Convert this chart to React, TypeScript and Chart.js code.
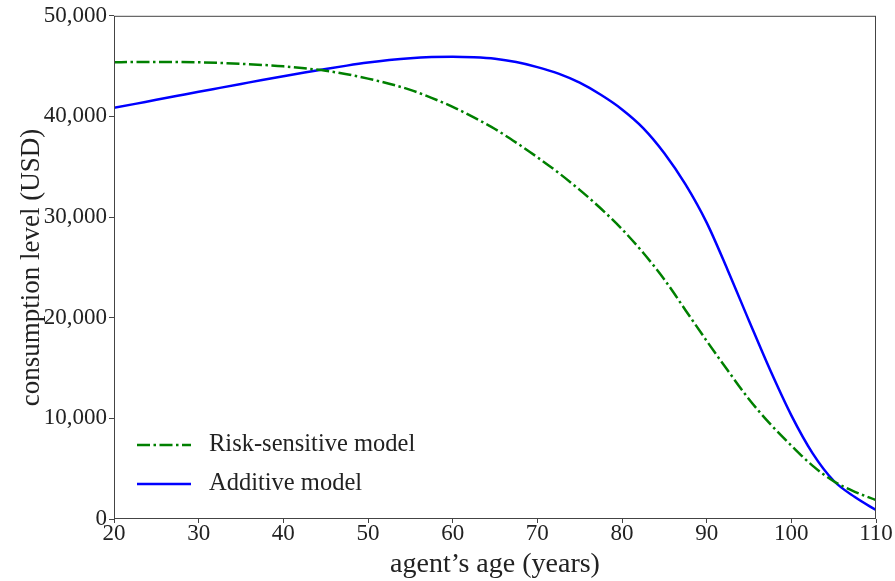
import React, { useEffect, useRef } from "react";
import { Chart, registerables } from "chart.js";

Chart.register(...registerables);

const ages = [20, 22.5, 25, 27.5, 30, 32.5, 35, 37.5, 40, 42.5, 45, 47.5, 50, 52.5, 55, 57.5, 60, 62.5, 65, 67.5, 70, 72.5, 75, 77.5, 80, 82.5, 85, 87.5, 90, 92.5, 95, 97.5, 100, 102.5, 105, 107.5, 110];
const riskSensitive = [45380, 45410, 45420, 45410, 45380, 45320, 45230, 45120, 44980, 44780, 44540, 44200, 43760, 43250, 42640, 41850, 40950, 39900, 38750, 37400, 35950, 34400, 32700, 30850, 28800, 26450, 23800, 20750, 17700, 14750, 11900, 9450, 7300, 5300, 3750, 2700, 1880];
const additive = [40850, 41250, 41650, 42050, 42450, 42840, 43230, 43620, 44000, 44370, 44720, 45050, 45350, 45600, 45790, 45900, 45940, 45880, 45730, 45400, 44900, 44250, 43350, 42150, 40700, 38850, 36350, 33250, 29450, 24700, 19700, 14800, 10300, 6550, 3800, 2180, 890];
const seriesLabels = ["Risk-sensitive model", "Additive model"];
const xTicks = [20, 30, 40, 50, 60, 70, 80, 90, 100, 110];
const yTicks = [0, 10000, 20000, 30000, 40000, 50000];

const FONT = "'Liberation Serif', 'DejaVu Serif', serif";

const framePlugin = {
  id: "frame",
  afterDatasetsDraw(chart: any) {
    const { ctx, chartArea } = chart;
    ctx.save();
    ctx.strokeStyle = "#444";
    ctx.lineWidth = 1;
    ctx.strokeRect(chartArea.left + 0.5, chartArea.top + 0.5, chartArea.right - chartArea.left - 1, chartArea.bottom - chartArea.top - 1);
    ctx.restore();
  },
};

const legendPlugin = {
  id: "customLegend",
  afterDraw(chart: any) {
    const { ctx, chartArea } = chart;
    ctx.save();
    const x0 = chartArea.left + 23;
    const rows = [chartArea.bottom - 74, chartArea.bottom - 35];
    chart.data.datasets.forEach((ds: any, i: number) => {
      const y = rows[i];
      ctx.beginPath();
      ctx.strokeStyle = ds.borderColor;
      ctx.lineWidth = ds.borderWidth;
      ctx.setLineDash(ds.borderDash || []);
      ctx.moveTo(x0, y);
      ctx.lineTo(x0 + 54, y);
      ctx.stroke();
      ctx.setLineDash([]);
      ctx.fillStyle = "#222";
      ctx.font = `24.5px ${FONT}`;
      ctx.textBaseline = "middle";
      ctx.textAlign = "left";
      ctx.fillText(ds.label, x0 + 72, y);
    });
    ctx.restore();
  },
};

export default function App() {
  const ref = useRef<HTMLCanvasElement>(null);
  useEffect(() => {
    document.body.style.margin = "0";
    const canvas = ref.current!;
    const chart = new Chart(canvas, {
      type: "line",
      data: {
        datasets: [
          {
            label: seriesLabels[0],
            data: ages.map((a, i) => ({ x: a, y: riskSensitive[i] })),
            borderColor: "#008000",
            borderWidth: 2.5,
            borderDash: [13, 3.5, 2.5, 3.5],
            pointRadius: 0,
            cubicInterpolationMode: "monotone",
            fill: false,
          },
          {
            label: seriesLabels[1],
            data: ages.map((a, i) => ({ x: a, y: additive[i] })),
            borderColor: "#0000ff",
            borderWidth: 2.5,
            pointRadius: 0,
            cubicInterpolationMode: "monotone",
            fill: false,
          },
        ],
      },
      options: {
        animation: false,
        responsive: false,
        layout: { padding: { left: 16, right: 19, top: 9, bottom: 0 } },
        plugins: {
          legend: { display: false },
          tooltip: { enabled: false },
        },
        scales: {
          x: {
            type: "linear",
            min: 20,
            max: 110,
            afterBuildTicks: (s: any) => {
              s.ticks = xTicks.map((v) => ({ value: v }));
            },
            afterFit: (s: any) => {
              s.height = 62;
            },
            grid: { drawOnChartArea: false, drawTicks: true, tickLength: 4, color: "#444" },
            border: { display: false },
            ticks: {
              color: "#222",
              font: { family: FONT, size: 23 },
              padding: -3,
              maxRotation: 0,
            },
            title: {
              display: true,
              text: "agent\u2019s age (years)",
              color: "#222",
              font: { family: FONT, size: 28 },
              padding: { top: 4, bottom: 0 },
            },
          },
          y: {
            type: "linear",
            min: 0,
            max: 50000,
            afterBuildTicks: (s: any) => {
              s.ticks = yTicks.map((v) => ({ value: v }));
            },
            afterFit: (s: any) => {
              s.width = 98;
            },
            grid: { drawOnChartArea: false, drawTicks: true, tickLength: 5, color: "#444" },
            border: { display: false },
            ticks: {
              color: "#222",
              font: { family: FONT, size: 23 },
              padding: 2,
              callback: (v: any) => Number(v).toLocaleString("en-US"),
            },
            title: {
              display: true,
              text: "consumption level (USD)",
              color: "#222",
              font: { family: FONT, size: 27 },
              padding: { top: 0, bottom: 0 },
            },
          },
        },
      },
      plugins: [framePlugin, legendPlugin],
    });
    return () => chart.destroy();
  }, []);
  return <canvas ref={ref} width={895} height={581} style={{ display: "block" }} />;
}
